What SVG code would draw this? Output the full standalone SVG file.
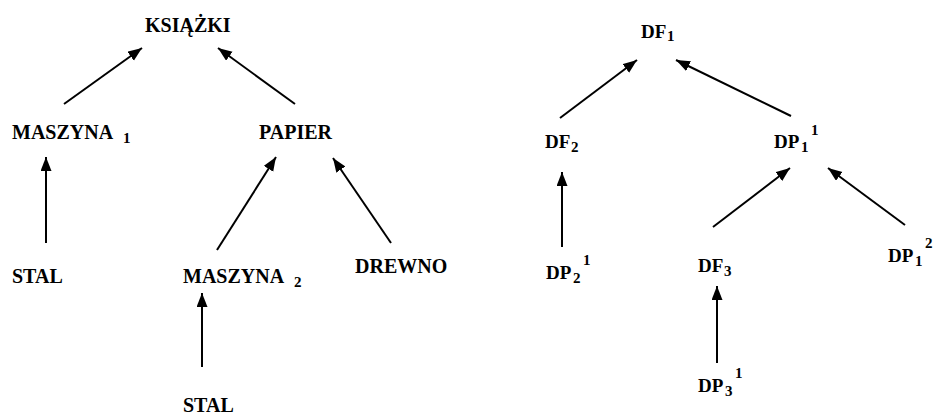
<svg xmlns="http://www.w3.org/2000/svg" width="935" height="418" viewBox="0 0 935 418">
<defs>
<marker id="ah" markerUnits="userSpaceOnUse" markerWidth="15" markerHeight="12" refX="14" refY="5.5" orient="auto">
<path d="M0,0 L14,5.5 L0,11 z" fill="#000"/>
</marker>
</defs>
<rect width="935" height="418" fill="#fff"/>
<g id="connectors" stroke="#000" stroke-width="2" marker-end="url(#ah)">
<line x1="64" y1="104" x2="142" y2="48"/>
<line x1="295" y1="104" x2="218" y2="48"/>
<line x1="46" y1="243" x2="46" y2="157"/>
<line x1="217" y1="250" x2="276" y2="157"/>
<line x1="391" y1="243" x2="333" y2="158"/>
<line x1="202" y1="367" x2="202" y2="293"/>
<line x1="560" y1="118" x2="637" y2="60"/>
<line x1="791" y1="116" x2="676" y2="60"/>
<line x1="562" y1="247" x2="562" y2="172"/>
<line x1="713" y1="227" x2="790" y2="168"/>
<line x1="905" y1="225" x2="828" y2="168"/>
<line x1="717" y1="363" x2="717" y2="286"/>
</g>
<g id="ksiazki"><text x="145" y="32" style="font-family:'Liberation Serif';font-weight:700;font-size:20px">KSIĄŻKI</text></g>
<g id="maszyna1"><text x="12" y="139" style="font-family:'Liberation Serif';font-weight:700;font-size:20px">MASZYNA <tspan style="font-size:15px" x="123" y="143">1</tspan></text></g>
<g id="papier"><text x="259" y="139" style="font-family:'Liberation Serif';font-weight:700;font-size:20px">PAPIER</text></g>
<g id="stal1"><text x="12" y="283" style="font-family:'Liberation Serif';font-weight:700;font-size:20px">STAL</text></g>
<g id="maszyna2"><text x="183" y="283" style="font-family:'Liberation Serif';font-weight:700;font-size:20px">MASZYNA <tspan style="font-size:15px" x="294" y="287">2</tspan></text></g>
<g id="drewno"><text x="355" y="273" style="font-family:'Liberation Serif';font-weight:700;font-size:20px">DREWNO</text></g>
<g id="stal2"><text x="183" y="412" style="font-family:'Liberation Serif';font-weight:700;font-size:20px">STAL</text></g>
<g id="df1"><text x="641" y="38" style="font-family:'Liberation Serif';font-weight:700;font-size:19px">DF<tspan style="font-size:15px" x="667" y="41">1</tspan></text></g>
<g id="df2"><text x="545" y="148" style="font-family:'Liberation Serif';font-weight:700;font-size:19px">DF<tspan style="font-size:15px" x="571" y="152">2</tspan></text></g>
<g id="dp1_1"><text x="774" y="148" style="font-family:'Liberation Serif';font-weight:700;font-size:19px">DP<tspan style="font-size:15px" x="801" y="152">1</tspan><tspan style="font-size:15px" x="811" y="135">1</tspan></text></g>
<g id="dp2_1"><text x="546" y="279" style="font-family:'Liberation Serif';font-weight:700;font-size:19px">DP<tspan style="font-size:15px" x="573" y="283">2</tspan><tspan style="font-size:15px" x="583" y="265">1</tspan></text></g>
<g id="df3"><text x="698" y="272" style="font-family:'Liberation Serif';font-weight:700;font-size:19px">DF<tspan style="font-size:15px" x="724" y="276">3</tspan></text></g>
<g id="dp1_2"><text x="888" y="262" style="font-family:'Liberation Serif';font-weight:700;font-size:19px">DP<tspan style="font-size:15px" x="915" y="266">1</tspan><tspan style="font-size:15px" x="925" y="248">2</tspan></text></g>
<g id="dp3_1"><text x="698" y="392" style="font-family:'Liberation Serif';font-weight:700;font-size:19px">DP<tspan style="font-size:15px" x="725" y="396">3</tspan><tspan style="font-size:15px" x="735" y="378">1</tspan></text></g>
</svg>
